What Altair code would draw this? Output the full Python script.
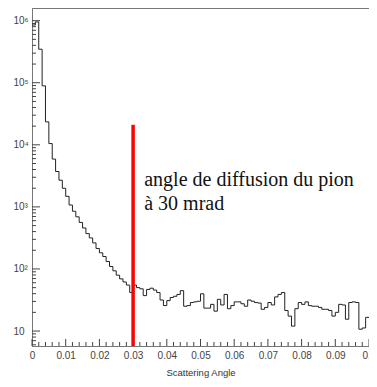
import altair as alt
import pandas as pd

# Histogram: scattering angle (bins of 0.001 from 0 to 0.1), counts (log scale)
bin_edges_left = [round(i * 0.001, 3) for i in range(100)]
log_counts = [
    5.93, 5.98, 5.54, 4.95, 4.37, 4.02, 3.77, 3.57, 3.43, 3.30,
    3.17, 3.03, 2.93, 2.84, 2.75, 2.66, 2.57, 2.50, 2.42, 2.33,
    2.26, 2.20, 2.12, 2.04, 1.97, 1.90, 1.84, 1.79, 1.74, 1.62,
    1.74, 1.70, 1.68, 1.57, 1.67, 1.69, 1.66, 1.62, 1.50, 1.41,
    1.49, 1.54, 1.56, 1.59, 1.65, 1.40, 1.41, 1.46, 1.47, 1.48,
    1.60, 1.37, 1.37, 1.43, 1.32, 1.51, 1.42, 1.59, 1.36, 1.41,
    1.47, 1.47, 1.44, 1.40, 1.50, 1.48, 1.46, 1.45, 1.35, 1.38,
    1.46, 1.42, 1.55, 1.59, 1.62, 1.33, 1.24, 1.08, 1.36, 1.46,
    1.43, 1.47, 1.41, 1.40, 1.40, 1.38, 1.35, 1.35, 1.33, 1.24,
    1.30, 1.43, 1.42, 1.19, 1.46, 1.47, 1.46, 1.03, 1.05, 1.22,
]
counts = [round(10 ** v, 1) for v in log_counts]

x_major_ticks = [round(i * 0.01, 2) for i in range(11)]
x_minor_ticks = [round(i * 0.002, 3) for i in range(51) if i % 5 != 0]
y_major_ticks = [10, 100, 1000, 10000, 100000, 1000000]
y_minor_ticks = [k * 10 ** n for n in range(0, 6) for k in range(2, 10)
                 if 5.74 <= k * 10 ** n <= 1.6e6]
y_tick_labels = ["10", "10²", "10³", "10⁴", "10⁵", "10⁶"]

marker_angle = [0.03]
marker_top = [21000]
annotation_lines = ["angle de diffusion du pion", "à 30 mrad"]
annotation_x = [0.0333, 0.0333]
annotation_y = [2200, 906]

W, H = 337, 338
x_dom = [0, 0.1]
y_dom = [5.74, 1.6e6]

hist_df = pd.DataFrame({
    "angle": bin_edges_left + [0.1],
    "count": counts + [counts[-1]],
})

x_scale = alt.Scale(domain=x_dom, nice=False, zero=False)
y_scale = alt.Scale(type="log", domain=y_dom, nice=False)

label_expr_y = "[" + ",".join("'" + s + "'" for s in y_tick_labels) + "][round(log(datum.value)/LN10) - 1]"

x_axis = alt.Axis(values=x_major_ticks, title="Scattering Angle",
                  labelExpr="format(datum.value, '.2~f')",
                  ticks=False, labelPadding=4, titlePadding=7,
                  titleFontSize=9.5, titleFontWeight="normal",
                  titleColor="#333333", labelFlush=False,
                  labelOverlap=False)
y_axis = alt.Axis(values=y_major_ticks, title=None, ticks=False,
                  labelExpr=label_expr_y, labelPadding=19,
                  labelAlign="left", labelOverlap=False)

hist = alt.Chart(hist_df).mark_line(
    interpolate="step-after", color="#222222", strokeWidth=1, clip=True
).encode(
    x=alt.X("angle:Q", scale=x_scale, axis=x_axis, title="Scattering Angle"),
    y=alt.Y("count:Q", scale=y_scale, axis=y_axis, title=None),
)

xmaj = alt.Chart(pd.DataFrame({"angle": x_major_ticks})).mark_rule(
    color="#444444", strokeWidth=1).encode(
    x=alt.X("angle:Q", scale=x_scale, axis=x_axis, title="Scattering Angle"),
    y=alt.value(H), y2=alt.value(H - 7))
xmin = alt.Chart(pd.DataFrame({"angle": x_minor_ticks})).mark_rule(
    color="#444444", strokeWidth=1).encode(
    x=alt.X("angle:Q", scale=x_scale, axis=x_axis, title="Scattering Angle"),
    y=alt.value(H), y2=alt.value(H - 4))
ymaj = alt.Chart(pd.DataFrame({"count": y_major_ticks})).mark_rule(
    color="#444444", strokeWidth=1).encode(
    y=alt.Y("count:Q", scale=y_scale, axis=y_axis, title=None),
    x=alt.value(0), x2=alt.value(8))
ymin = alt.Chart(pd.DataFrame({"count": y_minor_ticks})).mark_rule(
    color="#444444", strokeWidth=1).encode(
    y=alt.Y("count:Q", scale=y_scale, axis=y_axis, title=None),
    x=alt.value(0), x2=alt.value(4))

red = alt.Chart(pd.DataFrame({"angle": marker_angle, "count": marker_top,
                              "bot": [y_dom[0]]})).mark_rule(
    color="#ff0000", strokeWidth=3.5).encode(
    x=alt.X("angle:Q", scale=x_scale, axis=x_axis, title="Scattering Angle"),
    y=alt.Y("count:Q", scale=y_scale, axis=y_axis, title=None),
    y2="bot:Q")

txt = alt.Chart(pd.DataFrame({"angle": annotation_x, "count": annotation_y,
                              "t": annotation_lines})).mark_text(
    align="left", baseline="alphabetic", font="Liberation Serif",
    fontSize=20, color="#111111").encode(
    x=alt.X("angle:Q", scale=x_scale, axis=x_axis, title="Scattering Angle"),
    y=alt.Y("count:Q", scale=y_scale, axis=y_axis, title=None), text="t:N")

chart = alt.layer(hist, xmin, xmaj, ymin, ymaj, red, txt).properties(
    width=W, height=H,
    autosize=alt.AutoSizeParams(type="none"),
    padding={"left": 24, "top": 0, "right": 0, "bottom": 33},
).configure_view(
    stroke="#777777", strokeWidth=1
).configure_axis(
    grid=False, domainColor="#777777", labelFont="Liberation Sans",
    labelFontSize=10, labelColor="#444444", titleFont="Liberation Sans",
)

chart.save("out.html", embed_options={"renderer": "svg", "actions": False})
